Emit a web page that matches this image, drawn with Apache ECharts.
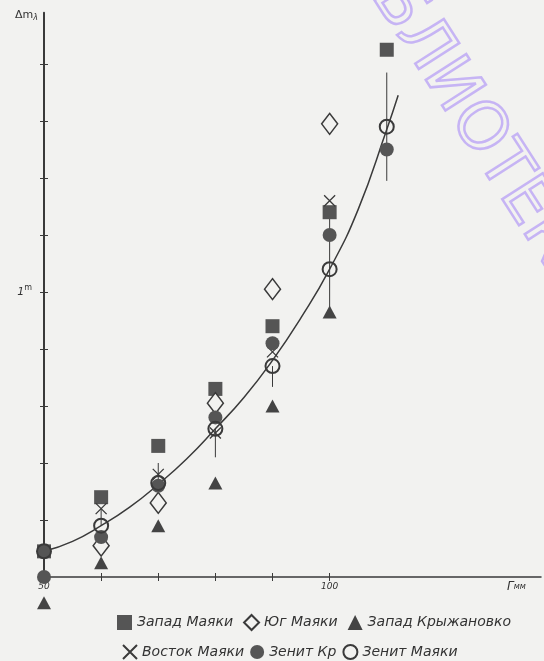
<!DOCTYPE html>
<html><head><meta charset="utf-8">
<script src="https://cdn.jsdelivr.net/npm/echarts@6/dist/echarts.min.js"></script>
<style>html,body{margin:0;padding:0;background:#f2f2f0}#c{width:544px;height:661px}</style>
</head><body><div id="c"></div>
<script>
// ---- data ----
const zapadMayaki  = [[50,0.09],[60,0.28],[70,0.46],[80,0.66],[90,0.88],[100,1.28],[110,1.85]];
const yugMayaki    = [[60,0.11],[70,0.26],[80,0.61],[90,1.01],[100,1.59]];
const zapadKryzh   = [[50,-0.09],[60,0.05],[70,0.18],[80,0.33],[90,0.60],[100,0.93]];
const vostokMayaki = [[60,0.24],[70,0.36],[80,0.505],[90,0.79],[100,1.32]];
const zenitKr      = [[50,0.0],[60,0.14],[70,0.32],[80,0.56],[90,0.82],[100,1.20],[110,1.50]];
const zenitMayaki  = [[50,0.09],[60,0.18],[70,0.33],[80,0.52],[90,0.74],[100,1.08],[110,1.58]];
const errX  = [60,70,80,90,100,110];
const errLo = [0.18,0.33,0.42,0.667,0.93,1.39];
const errHi = [0.24,0.40,0.52,0.74,1.28,1.77];
const fitX = [50,55,60,65,70,75,80,85,90,95,100,105,110,112];
const fitY = [0.09,0.125,0.18,0.245,0.325,0.415,0.52,0.63,0.76,0.91,1.08,1.29,1.57,1.69];
const xTicks = [50,60,70,80,90,100];
const xLabels = [50,100];
const yTicks = [0.2,0.4,0.6,0.8,1.0,1.2,1.4,1.6,1.8];
const yLabels = [1.0];
const names = ['Запад Маяки','Юг Маяки','Запад Крыжановко','Восток Маяки','Зенит Кр','Зенит Маяки'];

const ink = '#3a3a3a';
const fillGray = '#555555';
const bg = '#f2f2f0';
const FONT = 'DejaVu Sans';

const chart = echarts.init(document.getElementById('c'), null, {renderer:'canvas'});
const errData = errX.map((x,i)=>[x, errLo[i], errHi[i]]);
const fitData = fitX.map((x,i)=>[x, fitY[i]]);

const option = {
  backgroundColor: bg,
  animation: false,
  grid: {left:44, right:3, top:12.7, bottom:84, containLabel:false},
  xAxis: [{
    type:'value', min:50, max:137, position:'bottom',
    axisLine:{onZero:true, lineStyle:{color:ink, width:1.5}},
    axisTick:{show:true, inside:false, length:4, customValues:xTicks, lineStyle:{color:ink}},
    axisLabel:{customValues:xLabels, color:'#333', fontSize:9, fontStyle:'italic', fontFamily:FONT, margin:5},
    splitLine:{show:false},
    name:'{a|Г}{b|мм}', nameLocation:'end', nameGap:-34,
    nameTextStyle:{verticalAlign:'top', padding:[4,0,0,0], rich:{a:{fontSize:12,fontStyle:'italic',color:'#333',fontFamily:FONT}, b:{fontSize:8,fontStyle:'italic',color:'#333',fontFamily:FONT}}}
  },{
    type:'value', min:50, max:137, position:'bottom',
    axisLine:{show:false, onZero:true},
    axisTick:{show:true, inside:true, length:4, customValues:xTicks, lineStyle:{color:ink}},
    axisLabel:{show:false}, splitLine:{show:false}
  }],
  yAxis: [{
    type:'value', min:0, max:1.98, position:'left',
    axisLine:{show:true, lineStyle:{color:ink, width:2}},
    axisTick:{show:true, inside:false, length:4, customValues:yTicks, lineStyle:{color:ink}},
    axisLabel:{customValues:yLabels, margin:12, formatter:()=> '{n|1}{s|m}', rich:{n:{fontSize:11,color:'#333',fontFamily:FONT,fontStyle:'italic'}, s:{fontSize:8,color:'#333',fontFamily:FONT,verticalAlign:'bottom',padding:[0,0,8,0]}}},
    splitLine:{show:false},
    name:'{a|Δm}{b|λ}', nameLocation:'end', nameGap:5,
    nameTextStyle:{align:'right', verticalAlign:'top', padding:[0,6,0,0], rich:{a:{fontSize:11,color:'#333',fontFamily:FONT}, b:{fontSize:8,color:'#333',fontFamily:FONT,fontStyle:'italic',padding:[6,0,0,0]}}}
  },{
    type:'value', min:0, max:1.98, position:'left',
    axisLine:{show:false},
    axisTick:{show:true, inside:true, length:4, customValues:yTicks, lineStyle:{color:ink}},
    axisLabel:{show:false}, splitLine:{show:false}
  }],
  legend: [{
    data:[names[0],names[1],names[2]], left:112, top:609, itemGap:10, itemWidth:15, itemHeight:15,
    textStyle:{fontSize:14, fontStyle:'italic', color:'#333', fontFamily:FONT}
  },{
    data:[names[3],names[4],names[5]], left:117, top:639, itemGap:6, itemWidth:14, itemHeight:14,
    textStyle:{fontSize:14, fontStyle:'italic', color:'#333', fontFamily:FONT}
  }],
  graphic: [{
    type:'text', x:362, y:-112, rotation:-1.0, silent:true, z:-1,
    style:{text:'БИБЛИОТЕКА', fontSize:66, fontFamily:FONT, fill:'rgba(0,0,0,0)', stroke:'#c6b4f4', lineWidth:2.5}
  }],
  series: [
    {type:'line', data:fitData, smooth:true, showSymbol:false, symbol:'none', lineStyle:{color:ink, width:1.5}, z:1, silent:true},
    {type:'custom', data:errData, z:2, silent:true,
      renderItem:(params, api)=>{
        const p1 = api.coord([api.value(0), api.value(1)]);
        const p2 = api.coord([api.value(0), api.value(2)]);
        return {type:'line', shape:{x1:p1[0], y1:p1[1], x2:p2[0], y2:p2[1]}, style:{stroke:ink, lineWidth:1}};
      }},
    {name:names[0], type:'scatter', data:zapadMayaki, symbol:'rect', symbolSize:14, clip:false, z:3,
      itemStyle:{color:fillGray, opacity:1}},
    {name:names[1], type:'scatter', data:yugMayaki, symbol:'diamond', symbolSize:[16,21], clip:false, z:3,
      itemStyle:{color:bg, borderColor:ink, borderWidth:1.5, opacity:1}},
    {name:names[2], type:'scatter', data:zapadKryzh, symbol:'triangle', symbolSize:[14,13], clip:false, z:3,
      itemStyle:{color:'#444', opacity:1}},
    {name:names[3], type:'scatter', data:vostokMayaki, symbol:'path://M0,0L10,10M10,0L0,10', symbolSize:11, clip:false, z:4,
      itemStyle:{color:'rgba(0,0,0,0)', borderColor:ink, borderWidth:1.3, opacity:1}},
    {name:names[4], type:'scatter', data:zenitKr, symbol:'circle', symbolSize:14, clip:false, z:4,
      itemStyle:{color:fillGray, opacity:1}},
    {name:names[5], type:'scatter', data:zenitMayaki, symbol:'circle', symbolSize:14, clip:false, z:5,
      itemStyle:{color:'rgba(0,0,0,0)', borderColor:ink, borderWidth:2, opacity:1}}
  ]
};
chart.setOption(option);
</script></body></html>
